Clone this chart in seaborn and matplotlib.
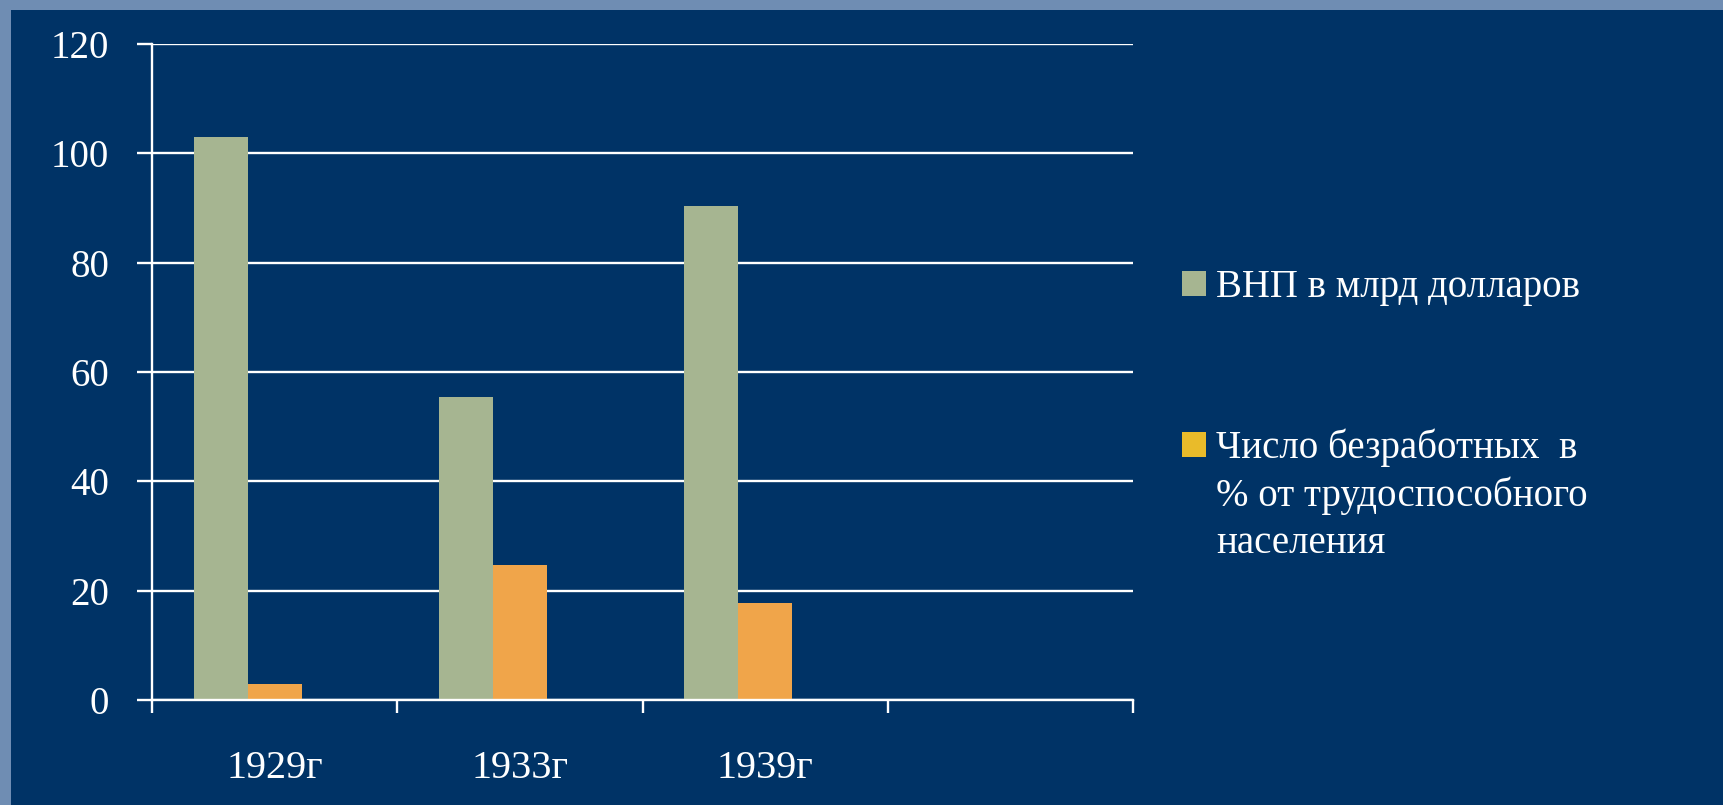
import pandas as pd
import matplotlib
matplotlib.use('Agg')
import matplotlib.pyplot as plt
import seaborn as sns
from matplotlib.patches import Patch, Rectangle

# данные
years = ['1929г', '1933г', '1939г']
gnp = [103.0, 55.5, 90.3]
unemployed = [3.0, 24.7, 17.8]
series_names = ['ВНП в млрд долларов',
                'Число безработных  в\n% от трудоспособного\nнаселения']
category_order = years + [' ']          # пустая четвёртая категория
hue_order = series_names + ['Ряд 3']     # пустой третий ряд
yticks = [0, 20, 40, 60, 80, 100, 120]

df = pd.DataFrame({
    'year': years * 2,
    'series': [series_names[0]] * 3 + [series_names[1]] * 3,
    'value': gnp + unemployed,
})

navy = '#003366'
bar_colors = {series_names[0]: '#a6b591', series_names[1]: '#f0a54a', 'Ряд 3': '#7f7f7f'}
legend_colors = ['#a6b591', '#e9bb2a']

sns.set_style('white')
plt.rcParams['font.family'] = ['Liberation Serif', 'DejaVu Serif']

fig = plt.figure(figsize=(17.23, 8.05), dpi=100)
fig.patch.set_facecolor('#6f8db3')
fig.add_artist(Rectangle((11 / 1723, 0), 1, 795 / 805, transform=fig.transFigure,
                         facecolor=navy, edgecolor='none', zorder=-1))

ax = fig.add_axes([152 / 1723, 105 / 805, 981 / 1723, 656 / 805])
ax.set_facecolor('none')

sns.barplot(data=df, x='year', y='value', hue='series', order=category_order,
            hue_order=hue_order, palette=bar_colors, width=0.66, gap=0,
            linewidth=0, saturation=1, legend=False, ax=ax)

ax.set_xlim(-0.5, 3.5)
ax.set_ylim(0, 120)
ax.set_yticks(yticks)
ax.set_xlabel('')
ax.set_ylabel('')
ax.yaxis.grid(True, color='white', linewidth=1.7)
ax.set_axisbelow(True)

for s in ['top', 'right']:
    ax.spines[s].set_visible(False)
for s in ['left', 'bottom']:
    ax.spines[s].set_color('white')
    ax.spines[s].set_linewidth(1.7)

ax.tick_params(axis='y', colors='white', labelsize=28, length=11, width=1.7,
               direction='out', pad=20, left=True)
ax.set_xticks(range(len(category_order)))
ax.set_xticklabels(category_order)
ax.set_xticks([-0.5, 0.5, 1.5, 2.5, 3.5], minor=True)
ax.tick_params(axis='x', which='major', colors='white', labelsize=29, length=0, pad=36)
ax.tick_params(axis='x', which='minor', colors='white', length=9, width=1.7,
               direction='out', bottom=True)

# легенда: у второго пункта квадрат стоит у первой строки
label_lines = series_names[1].split('\n')
handles = [Patch(facecolor=c, edgecolor='none') for c in legend_colors]
leg = ax.legend(handles=handles, labels=[series_names[0], label_lines[0]], loc='upper left',
                bbox_to_anchor=(1182 / 1723, (805 - 269) / 805), bbox_transform=fig.transFigure,
                frameon=False, fontsize=28, labelcolor='white', handlelength=0.62,
                handleheight=0.62, handletextpad=0.25, labelspacing=3.15,
                borderpad=0, borderaxespad=0)

fig.canvas.draw()
bb = leg.get_texts()[1].get_window_extent()
x0, y0 = fig.transFigure.inverted().transform((bb.x0, bb.y0 - 9))
fig.text(x0, y0, '\n'.join(label_lines[1:]), color='white', fontsize=28,
         ha='left', va='top', linespacing=1.38)

plt.savefig('out.png', dpi=100, facecolor=fig.get_facecolor())
